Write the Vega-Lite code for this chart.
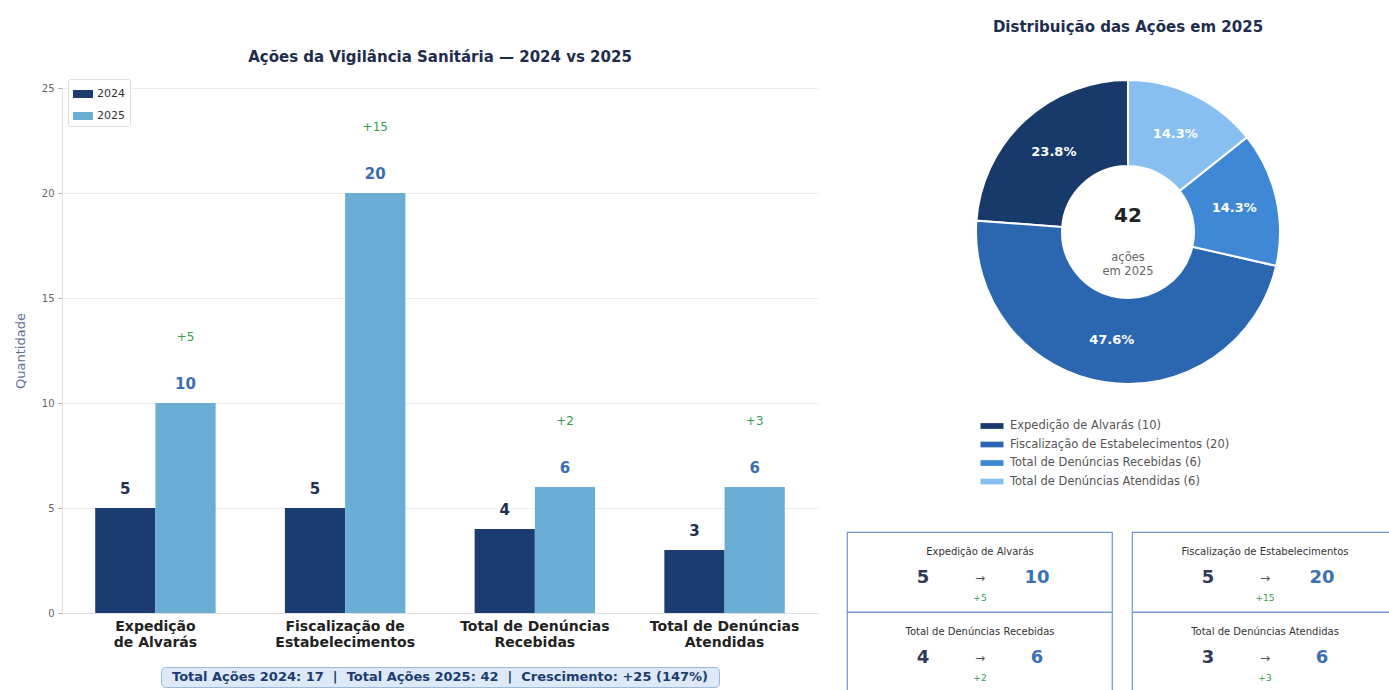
{
  "$schema": "https://vega.github.io/schema/vega-lite/v6.json",
  "padding": {"left": 14, "top": 20, "right": 0, "bottom": 0},
  "background": "white",
  "config": {
    "font": "DejaVu Sans",
    "view": {"stroke": null}
  },
  "datasets": {
    "acoes": [
      {"categoria": "Expedição de Alvarás", "ano": "2024", "valor": 5, "delta": "", "pct": "", "rotulo": ""},
      {"categoria": "Expedição de Alvarás", "ano": "2025", "valor": 10, "delta": "+5", "pct": "23.8%", "rotulo": "Expedição de Alvarás (10)"},
      {"categoria": "Fiscalização de Estabelecimentos", "ano": "2024", "valor": 5, "delta": "", "pct": "", "rotulo": ""},
      {"categoria": "Fiscalização de Estabelecimentos", "ano": "2025", "valor": 20, "delta": "+15", "pct": "47.6%", "rotulo": "Fiscalização de Estabelecimentos (20)"},
      {"categoria": "Total de Denúncias Recebidas", "ano": "2024", "valor": 4, "delta": "", "pct": "", "rotulo": ""},
      {"categoria": "Total de Denúncias Recebidas", "ano": "2025", "valor": 6, "delta": "+2", "pct": "14.3%", "rotulo": "Total de Denúncias Recebidas (6)"},
      {"categoria": "Total de Denúncias Atendidas", "ano": "2024", "valor": 3, "delta": "", "pct": "", "rotulo": ""},
      {"categoria": "Total de Denúncias Atendidas", "ano": "2025", "valor": 6, "delta": "+3", "pct": "14.3%", "rotulo": "Total de Denúncias Atendidas (6)"}
    ],
    "cartoes": [
      {"categoria": "Expedição de Alvarás", "v2024": 5, "v2025": 10, "delta": "+5"},
      {"categoria": "Fiscalização de Estabelecimentos", "v2024": 5, "v2025": 20, "delta": "+15"},
      {"categoria": "Total de Denúncias Recebidas", "v2024": 4, "v2025": 6, "delta": "+2"},
      {"categoria": "Total de Denúncias Atendidas", "v2024": 3, "v2025": 6, "delta": "+3"}
    ],
    "rodape": [
      {"texto": "Total Ações 2024: 17 \u00a0| \u00a0Total Ações 2025: 42 \u00a0| \u00a0Crescimento: +25 (147%)"}
    ],
    "centro": [
      {"total": "42", "sub": "ações\nem 2025"}
    ]
  },
  "resolve": {"scale": {"color": "independent"}, "legend": {"color": "independent"}},
  "bounds": "flush",
  "spacing": 785,
  "hconcat": [
    {
      "bounds": "flush",
      "center": true,
      "spacing": 54,
      "vconcat": [
        {
          "width": 756,
          "height": 525,
          "title": {"text": "Ações da Vigilância Sanitária — 2024 vs 2025", "fontSize": 15, "fontWeight": "bold", "color": "#1f2d4d", "offset": 18, "anchor": "middle", "frame": "group"},
          "data": {"name": "acoes"},
          "encoding": {
            "x": {
              "field": "categoria", "type": "nominal",
              "sort": ["Expedição de Alvarás", "Fiscalização de Estabelecimentos", "Total de Denúncias Recebidas", "Total de Denúncias Atendidas"],
              "scale": {"paddingInner": 0.365, "paddingOuter": 0.175},
              "axis": {
                "title": null, "labelAngle": 0, "labelFontWeight": "bold", "labelFontSize": 14, "labelColor": "#222222",
                "labelLineHeight": 16, "labelPadding": 6, "ticks": false, "domainColor": "#e0e0e0",
                "labelExpr": "datum.label == 'Expedição de Alvarás' ? ['Expedição', 'de Alvarás'] : datum.label == 'Fiscalização de Estabelecimentos' ? ['Fiscalização de', 'Estabelecimentos'] : datum.label == 'Total de Denúncias Recebidas' ? ['Total de Denúncias', 'Recebidas'] : ['Total de Denúncias', 'Atendidas']"
              }
            },
            "xOffset": {"field": "ano", "type": "nominal", "sort": ["2024", "2025"], "scale": {"paddingInner": 0, "paddingOuter": 0}},
            "y": {
              "field": "valor", "type": "quantitative", "scale": {"domain": [0, 25], "nice": false},
              "axis": {
                "title": "Quantidade", "titleFontSize": 13, "titleFontWeight": "normal", "titleColor": "#5d6f96", "titlePadding": 14,
                "labelFontSize": 10, "labelColor": "#666666", "labelPadding": 4, "tickSize": 4, "tickColor": "#aaaaaa",
                "domainColor": "#e0e0e0", "gridColor": "#eeeeee", "values": [0, 5, 10, 15, 20, 25]
              }
            }
          },
          "layer": [
            {
              "mark": {"type": "bar"},
              "encoding": {
                "color": {
                  "field": "ano", "type": "nominal",
                  "scale": {"domain": ["2024", "2025"], "range": ["#1b3c70", "#6aaed6"]},
                  "legend": {
                    "title": null, "orient": "none", "legendX": 6, "legendY": -9, "fillColor": "white", "strokeColor": "#dddddd",
                    "padding": 5, "cornerRadius": 2, "labelFontSize": 11, "labelColor": "#333333",
                    "symbolType": "M-1,-0.4H1V0.4H-1Z", "symbolSize": 400, "rowPadding": 7, "symbolStrokeWidth": 0
                  }
                }
              }
            },
            {
              "mark": {"type": "text", "fontWeight": "bold", "fontSize": 15, "baseline": "middle", "dy": -19},
              "encoding": {
                "text": {"field": "valor"},
                "color": {"condition": {"test": "datum.ano == '2024'", "value": "#1f2f4f"}, "value": "#3c6db0"}
              }
            },
            {
              "transform": [{"filter": "datum.ano == '2025'"}],
              "mark": {"type": "text", "fontSize": 12, "baseline": "middle", "dy": -66, "color": "#3a9a50"},
              "encoding": {
                "text": {"field": "delta"}
              }
            }
          ]
        },
        {
          "width": 558,
          "height": 20,
          "view": {"fill": "#dde9f7", "stroke": "#9ab9df", "cornerRadius": 4},
          "data": {"name": "rodape"},
          "mark": {"type": "text", "fontWeight": "bold", "fontSize": 13, "color": "#1f3c6e", "baseline": "middle"},
          "encoding": {"text": {"field": "texto"}}
        }
      ]
    },
    {
      "bounds": "flush",
      "spacing": 156,
      "resolve": {"scale": {"color": "independent"}},
      "vconcat": [
        {
          "width": 562,
          "height": 288,
          "title": {"text": "Distribuição das Ações em 2025", "fontSize": 15, "fontWeight": "bold", "color": "#1f2d4d", "offset": 41, "anchor": "middle", "frame": "group"},
          "data": {"name": "acoes"},
          "transform": [
            {"filter": "datum.ano == '2025'"},
            {"window": [{"op": "row_number", "as": "idx"}]}
          ],
          "layer": [
            {
              "mark": {"type": "arc", "outerRadius": 152, "innerRadius": 66, "stroke": "white", "strokeWidth": 2},
              "encoding": {
                "theta": {"field": "valor", "type": "quantitative", "stack": true},
                "order": {"field": "idx", "type": "quantitative", "sort": "descending"},
                "color": {
                  "field": "rotulo", "type": "nominal",
                  "scale": {
                    "domain": ["Expedição de Alvarás (10)", "Fiscalização de Estabelecimentos (20)", "Total de Denúncias Recebidas (6)", "Total de Denúncias Atendidas (6)"],
                    "range": ["#173a6a", "#2b66b1", "#3f88d6", "#87c0f0"]
                  },
                  "legend": {
                    "title": null, "orient": "none", "legendX": 139, "legendY": 332, "padding": 0,
                    "labelFontSize": 11.5, "labelColor": "#555555", "symbolType": "M-2,-0.5H2V0.5H-2Z", "symbolSize": 132,
                    "rowPadding": 6.5, "labelOffset": 12, "symbolStrokeWidth": 0, "labelLimit": 400
                  }
                }
              }
            },
            {
              "mark": {"type": "text", "radius": 109, "fontWeight": "bold", "fontSize": 13, "color": "white"},
              "encoding": {
                "theta": {"field": "valor", "type": "quantitative", "stack": true},
                "order": {"field": "idx", "type": "quantitative", "sort": "descending"},
                "text": {"field": "pct"}
              }
            },
            {
              "data": {"name": "centro"},
              "mark": {"type": "text", "fontSize": 20, "fontWeight": "bold", "color": "#222222", "dy": -16, "baseline": "middle"},
              "encoding": {"text": {"field": "total"}}
            },
            {
              "data": {"name": "centro"},
              "mark": {"type": "text", "fontSize": 11.5, "color": "#666666", "dy": 26, "baseline": "middle", "lineBreak": "\n", "lineHeight": 14},
              "encoding": {"text": {"field": "sub"}}
            }
          ]
        },
        {
          "bounds": "flush",
          "columns": 2,
          "spacing": {"row": 0, "column": 20},
          "concat": [
            {
              "width": 265, "height": 80,
              "view": {"stroke": "#6f98cf", "strokeWidth": 1.2, "fill": "white"},
              "data": {"name": "cartoes"},
              "transform": [{"filter": "datum.categoria == 'Expedição de Alvarás'"}],
              "layer": [
                {"mark": {"type": "text", "fontSize": 10, "color": "#333333", "baseline": "middle"},
                 "encoding": {"x": {"datum": "seta", "type": "ordinal", "scale": {"type": "point", "domain": ["antes", "seta", "depois"], "range": [76, 190], "padding": 0}, "axis": null},
                              "y": {"datum": "titulo", "type": "ordinal", "scale": {"type": "point", "domain": ["titulo", "valor", "delta"], "range": [20, 66], "padding": 0}, "axis": null},
                              "text": {"field": "categoria"}}},
                {"mark": {"type": "text", "fontSize": 18, "fontWeight": "bold", "color": "#2e3a55", "baseline": "middle", "dy": 3},
                 "encoding": {"x": {"datum": "antes", "type": "ordinal"}, "y": {"datum": "valor", "type": "ordinal"}, "text": {"field": "v2024"}}},
                {"mark": {"type": "text", "fontSize": 12, "color": "#555555", "baseline": "middle", "dy": 3, "text": "→"},
                 "encoding": {"x": {"datum": "seta", "type": "ordinal"}, "y": {"datum": "valor", "type": "ordinal"}}},
                {"mark": {"type": "text", "fontSize": 18, "fontWeight": "bold", "color": "#3c70b3", "baseline": "middle", "dy": 3},
                 "encoding": {"x": {"datum": "depois", "type": "ordinal"}, "y": {"datum": "valor", "type": "ordinal"}, "text": {"field": "v2025"}}},
                {"mark": {"type": "text", "fontSize": 9, "color": "#3a9a50", "baseline": "middle"},
                 "encoding": {"x": {"datum": "seta", "type": "ordinal"}, "y": {"datum": "delta", "type": "ordinal"}, "text": {"field": "delta"}}}
              ]
            },
            {
              "width": 265, "height": 80,
              "view": {"stroke": "#6f98cf", "strokeWidth": 1.2, "fill": "white"},
              "data": {"name": "cartoes"},
              "transform": [{"filter": "datum.categoria == 'Fiscalização de Estabelecimentos'"}],
              "layer": [
                {"mark": {"type": "text", "fontSize": 10, "color": "#333333", "baseline": "middle"},
                 "encoding": {"x": {"datum": "seta", "type": "ordinal", "scale": {"type": "point", "domain": ["antes", "seta", "depois"], "range": [76, 190], "padding": 0}, "axis": null},
                              "y": {"datum": "titulo", "type": "ordinal", "scale": {"type": "point", "domain": ["titulo", "valor", "delta"], "range": [20, 66], "padding": 0}, "axis": null},
                              "text": {"field": "categoria"}}},
                {"mark": {"type": "text", "fontSize": 18, "fontWeight": "bold", "color": "#2e3a55", "baseline": "middle", "dy": 3},
                 "encoding": {"x": {"datum": "antes", "type": "ordinal"}, "y": {"datum": "valor", "type": "ordinal"}, "text": {"field": "v2024"}}},
                {"mark": {"type": "text", "fontSize": 12, "color": "#555555", "baseline": "middle", "dy": 3, "text": "→"},
                 "encoding": {"x": {"datum": "seta", "type": "ordinal"}, "y": {"datum": "valor", "type": "ordinal"}}},
                {"mark": {"type": "text", "fontSize": 18, "fontWeight": "bold", "color": "#3c70b3", "baseline": "middle", "dy": 3},
                 "encoding": {"x": {"datum": "depois", "type": "ordinal"}, "y": {"datum": "valor", "type": "ordinal"}, "text": {"field": "v2025"}}},
                {"mark": {"type": "text", "fontSize": 9, "color": "#3a9a50", "baseline": "middle"},
                 "encoding": {"x": {"datum": "seta", "type": "ordinal"}, "y": {"datum": "delta", "type": "ordinal"}, "text": {"field": "delta"}}}
              ]
            },
            {
              "width": 265, "height": 80,
              "view": {"stroke": "#6f98cf", "strokeWidth": 1.2, "fill": "white"},
              "data": {"name": "cartoes"},
              "transform": [{"filter": "datum.categoria == 'Total de Denúncias Recebidas'"}],
              "layer": [
                {"mark": {"type": "text", "fontSize": 10, "color": "#333333", "baseline": "middle"},
                 "encoding": {"x": {"datum": "seta", "type": "ordinal", "scale": {"type": "point", "domain": ["antes", "seta", "depois"], "range": [76, 190], "padding": 0}, "axis": null},
                              "y": {"datum": "titulo", "type": "ordinal", "scale": {"type": "point", "domain": ["titulo", "valor", "delta"], "range": [20, 66], "padding": 0}, "axis": null},
                              "text": {"field": "categoria"}}},
                {"mark": {"type": "text", "fontSize": 18, "fontWeight": "bold", "color": "#2e3a55", "baseline": "middle", "dy": 3},
                 "encoding": {"x": {"datum": "antes", "type": "ordinal"}, "y": {"datum": "valor", "type": "ordinal"}, "text": {"field": "v2024"}}},
                {"mark": {"type": "text", "fontSize": 12, "color": "#555555", "baseline": "middle", "dy": 3, "text": "→"},
                 "encoding": {"x": {"datum": "seta", "type": "ordinal"}, "y": {"datum": "valor", "type": "ordinal"}}},
                {"mark": {"type": "text", "fontSize": 18, "fontWeight": "bold", "color": "#3c70b3", "baseline": "middle", "dy": 3},
                 "encoding": {"x": {"datum": "depois", "type": "ordinal"}, "y": {"datum": "valor", "type": "ordinal"}, "text": {"field": "v2025"}}},
                {"mark": {"type": "text", "fontSize": 9, "color": "#3a9a50", "baseline": "middle"},
                 "encoding": {"x": {"datum": "seta", "type": "ordinal"}, "y": {"datum": "delta", "type": "ordinal"}, "text": {"field": "delta"}}}
              ]
            },
            {
              "width": 265, "height": 80,
              "view": {"stroke": "#6f98cf", "strokeWidth": 1.2, "fill": "white"},
              "data": {"name": "cartoes"},
              "transform": [{"filter": "datum.categoria == 'Total de Denúncias Atendidas'"}],
              "layer": [
                {"mark": {"type": "text", "fontSize": 10, "color": "#333333", "baseline": "middle"},
                 "encoding": {"x": {"datum": "seta", "type": "ordinal", "scale": {"type": "point", "domain": ["antes", "seta", "depois"], "range": [76, 190], "padding": 0}, "axis": null},
                              "y": {"datum": "titulo", "type": "ordinal", "scale": {"type": "point", "domain": ["titulo", "valor", "delta"], "range": [20, 66], "padding": 0}, "axis": null},
                              "text": {"field": "categoria"}}},
                {"mark": {"type": "text", "fontSize": 18, "fontWeight": "bold", "color": "#2e3a55", "baseline": "middle", "dy": 3},
                 "encoding": {"x": {"datum": "antes", "type": "ordinal"}, "y": {"datum": "valor", "type": "ordinal"}, "text": {"field": "v2024"}}},
                {"mark": {"type": "text", "fontSize": 12, "color": "#555555", "baseline": "middle", "dy": 3, "text": "→"},
                 "encoding": {"x": {"datum": "seta", "type": "ordinal"}, "y": {"datum": "valor", "type": "ordinal"}}},
                {"mark": {"type": "text", "fontSize": 18, "fontWeight": "bold", "color": "#3c70b3", "baseline": "middle", "dy": 3},
                 "encoding": {"x": {"datum": "depois", "type": "ordinal"}, "y": {"datum": "valor", "type": "ordinal"}, "text": {"field": "v2025"}}},
                {"mark": {"type": "text", "fontSize": 9, "color": "#3a9a50", "baseline": "middle"},
                 "encoding": {"x": {"datum": "seta", "type": "ordinal"}, "y": {"datum": "delta", "type": "ordinal"}, "text": {"field": "delta"}}}
              ]
            }
          ]
        }
      ]
    }
  ]
}
